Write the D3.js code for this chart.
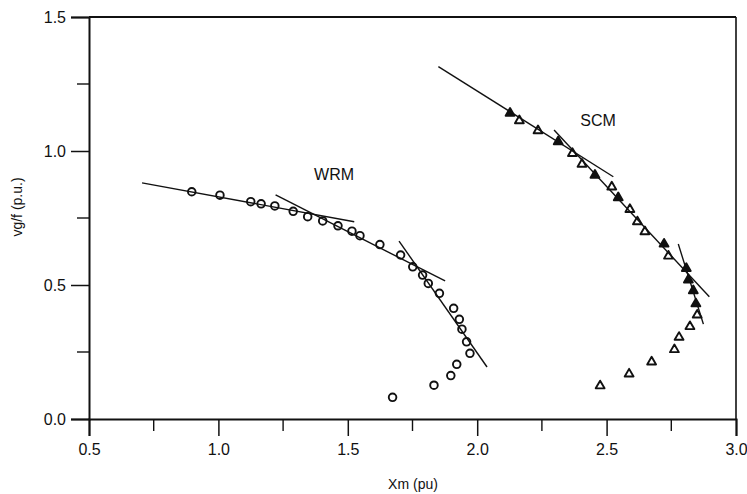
<!DOCTYPE html>
<html>
<head>
<meta charset="utf-8">
<script src="https://cdn.jsdelivr.net/npm/d3@7"></script>
<style>
  html, body { margin: 0; padding: 0; background: #fff; }
  svg { display: block; }
  text { font-family: "Liberation Sans", Arial, Helvetica, sans-serif; fill: #111; }
</style>
</head>
<body>
<svg id="chart" width="747" height="494"></svg>
<script>
// ---- data ----
const xTicks = [0.5, 1.0, 1.5, 2.0, 2.5, 3.0];
const yTicks = [0.0, 0.5, 1.0, 1.5];
const xTickLabels = ["0.5", "1.0", "1.5", "2.0", "2.5", "3.0"];
const yTickLabels = ["0.0", "0.5", "1.0", "1.5"];

// WRM (circles)
const wrmX = [0.897, 1.006, 1.125, 1.165, 1.218, 1.289, 1.345, 1.403, 1.462, 1.516, 1.547, 1.624, 1.704,
              1.751, 1.789, 1.811, 1.854, 1.909, 1.931, 1.941, 1.959, 1.972, 1.921, 1.898, 1.833, 1.673];
const wrmY = [0.848, 0.835, 0.811, 0.803, 0.795, 0.775, 0.755, 0.739, 0.721, 0.701, 0.684, 0.651, 0.612,
              0.568, 0.537, 0.506, 0.469, 0.413, 0.372, 0.335, 0.288, 0.245, 0.204, 0.162, 0.126, 0.081];

// SCM (triangles); filled flag as seen in the picture
const scmX = [2.127, 2.163, 2.235, 2.313, 2.368, 2.405, 2.455, 2.520, 2.545, 2.590, 2.619, 2.648, 2.722,
              2.739, 2.808, 2.816, 2.835, 2.845, 2.850, 2.822, 2.780, 2.762, 2.674, 2.587, 2.475];
const scmY = [1.141, 1.113, 1.076, 1.035, 0.991, 0.951, 0.910, 0.866, 0.826, 0.782, 0.736, 0.699, 0.653,
              0.608, 0.562, 0.519, 0.479, 0.430, 0.388, 0.345, 0.305, 0.259, 0.213, 0.168, 0.124];
const scmFilled = [1, 0, 0, 1, 0, 0, 1, 0, 1, 0, 0, 0, 1,
                   0, 1, 1, 1, 1, 0, 0, 0, 0, 0, 0, 0];

// piecewise linear fit segments: [x1, y1, x2, y2]
const wrmSegments = [
  [0.705, 0.881, 1.525, 0.736],
  [1.221, 0.836, 1.876, 0.515],
  [1.698, 0.664, 2.038, 0.194]
];
const scmSegments = [
  [1.850, 1.315, 2.526, 0.904],
  [2.297, 1.078, 2.897, 0.456],
  [2.777, 0.653, 2.874, 0.354]
];

const seriesLabels = [
  { text: "WRM", x: 1.447, y: 0.89 },
  { text: "SCM", x: 2.467, y: 1.093 }
];

const xTitle = "Xm (pu)";
const yTitle = "vg/f (p.u.)";

// ---- drawing ----
const svg = d3.select("#chart");
const x = d3.scaleLinear().domain([0.5, 3.0]).range([89, 736]);
const y = d3.scaleLinear().domain([0, 1.5]).range([419, 17]);

const ink = "#111";

// frame (top & right)
svg.append("line").attr("x1", x(0.5)).attr("x2", x(3.0)).attr("y1", y(1.5)).attr("y2", y(1.5))
  .attr("stroke", ink).attr("stroke-width", 2);
svg.append("line").attr("x1", x(3.0)).attr("x2", x(3.0)).attr("y1", y(1.5)).attr("y2", y(0))
  .attr("stroke", ink).attr("stroke-width", 1.6);

// minor ticks
const xMinor = [0.75, 1.25, 1.75, 2.25, 2.75];
const yMinor = [0.25, 0.75, 1.25];

const xAxis = d3.axisBottom(x).tickValues(xTicks).tickSize(17).tickPadding(8)
  .tickFormat((d, i) => xTickLabels[i]);
const gx = svg.append("g").attr("transform", `translate(0,${y(0)})`).call(xAxis);
gx.select(".domain").attr("stroke", ink).attr("stroke-width", 2);
gx.selectAll(".tick line").attr("stroke", ink).attr("stroke-width", 1.5);
gx.selectAll(".tick text").attr("font-size", 16).attr("fill", ink)
  .attr("font-family", "Liberation Sans, Arial, sans-serif");
gx.selectAll(".minor").data(xMinor).enter().append("line").attr("class", "minor")
  .attr("x1", d => x(d)).attr("x2", d => x(d)).attr("y1", 0).attr("y2", 12)
  .attr("stroke", ink).attr("stroke-width", 1.4);

const yAxis = d3.axisLeft(y).tickValues(yTicks).tickSize(18).tickPadding(5)
  .tickFormat((d, i) => yTickLabels[i]);
const gy = svg.append("g").attr("transform", `translate(${x(0.5)},0)`).call(yAxis);
gy.select(".domain").attr("stroke", ink).attr("stroke-width", 2);
gy.selectAll(".tick line").attr("stroke", ink).attr("stroke-width", 1.5);
gy.selectAll(".tick text").attr("font-size", 16).attr("fill", ink)
  .attr("font-family", "Liberation Sans, Arial, sans-serif");
gy.selectAll(".minor").data(yMinor).enter().append("line").attr("class", "minor")
  .attr("x1", 0).attr("x2", -12).attr("y1", d => y(d)).attr("y2", d => y(d))
  .attr("stroke", ink).attr("stroke-width", 1.4);

// markers
const wrm = wrmX.map((v, i) => ({ x: v, y: wrmY[i] }));
const scm = scmX.map((v, i) => ({ x: v, y: scmY[i], f: scmFilled[i] }));

svg.append("g").selectAll("circle").data(wrm).enter().append("circle")
  .attr("cx", d => x(d.x)).attr("cy", d => y(d.y)).attr("r", 3.8)
  .attr("fill", "#fff").attr("stroke", ink).attr("stroke-width", 1.9);

const tri = d3.symbol().type(d3.symbolTriangle).size(34);
svg.append("g").selectAll("path").data(scm).enter().append("path")
  .attr("d", tri)
  .attr("transform", d => `translate(${x(d.x)},${y(d.y)})`)
  .attr("fill", d => d.f ? ink : "#fff").attr("stroke", ink).attr("stroke-width", 1.9)
  .attr("stroke-linejoin", "round");

// fit segments
const segs = wrmSegments.concat(scmSegments);
svg.append("g").selectAll("line").data(segs).enter().append("line")
  .attr("x1", d => x(d[0])).attr("y1", d => y(d[1]))
  .attr("x2", d => x(d[2])).attr("y2", d => y(d[3]))
  .attr("stroke", ink).attr("stroke-width", 1.4);

// series labels
svg.append("g").selectAll("text").data(seriesLabels).enter().append("text")
  .attr("x", d => x(d.x)).attr("y", d => y(d.y))
  .attr("text-anchor", "middle").attr("font-size", 16)
  .text(d => d.text);

// axis titles
svg.append("text").attr("x", 413).attr("y", 489).attr("text-anchor", "middle")
  .attr("font-size", 14).text(xTitle);
svg.append("text").attr("transform", "translate(22,207) rotate(-90)")
  .attr("text-anchor", "middle").attr("font-size", 14).text(yTitle);
</script>
</body>
</html>
